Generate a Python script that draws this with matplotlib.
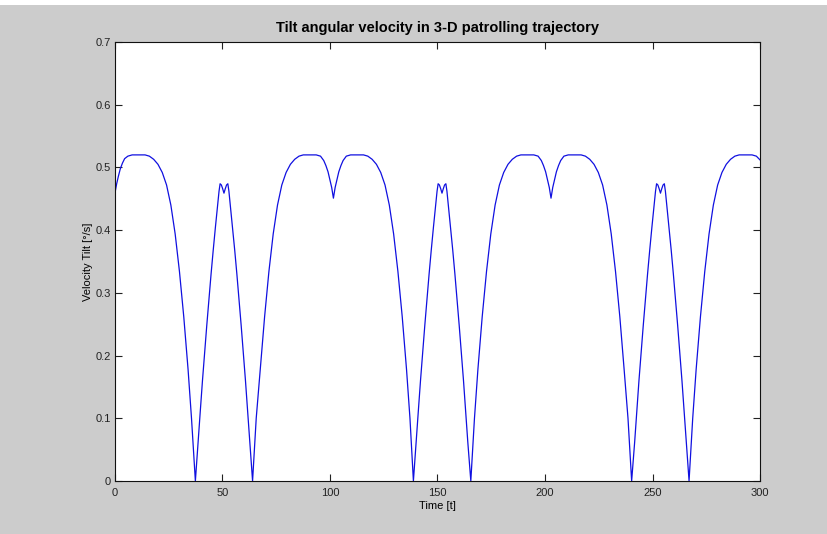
import matplotlib
matplotlib.use('agg')
import matplotlib.pyplot as plt
from matplotlib.patches import Rectangle

plt.rcParams['font.family'] = ['Liberation Sans', 'DejaVu Sans']

# tilt velocity, one lobe segment per list
t_lobe1 = [0, 0.8, 1.6, 2.5, 3.5, 4.5, 6, 8, 11, 14, 16, 18, 20, 22, 24, 26, 28, 30, 32, 34, 35.6, 37.4]
v_lobe1 = [0.459, 0.474, 0.486, 0.498, 0.507, 0.514, 0.518, 0.520, 0.520, 0.520, 0.518, 0.513, 0.505,
           0.492, 0.472, 0.440, 0.394, 0.334, 0.262, 0.178, 0.100, 0.0]

t_peak1 = [38.7, 39.7, 40.7, 41.7, 42.7, 43.7, 44.7, 45.7, 46.7, 47.7, 48.4, 48.9, 49.5, 50.1, 50.7,
           51.3, 51.9, 52.5, 53.0, 53.7, 54.7, 55.7, 56.7, 57.7, 58.7, 59.7, 60.7, 61.7, 62.7, 64.0]
v_peak1 = [0.062, 0.112, 0.160, 0.205, 0.248, 0.290, 0.330, 0.368, 0.404, 0.438, 0.462, 0.474, 0.472,
           0.466, 0.459, 0.466, 0.472, 0.474, 0.462, 0.438, 0.404, 0.368, 0.330, 0.290, 0.248, 0.205,
           0.160, 0.112, 0.062, 0.0]

t_lobe2 = [65.7, 67.6, 69.6, 71.6, 73.6, 75.6, 77.6, 79.6, 81.6, 83.6, 85.6, 87.6, 90.6, 93.6, 95.6,
           97.1, 98.1, 99.1, 100.0, 100.8, 101.6, 102.4, 103.2, 104.1, 105.1, 106.1, 107.6, 109.6,
           112.6, 115.6, 117.6, 119.6, 121.6, 123.6, 125.6, 127.6, 129.6, 131.6, 133.6, 135.6, 137.2, 138.8]
v_lobe2 = [0.100, 0.178, 0.262, 0.334, 0.394, 0.440, 0.472, 0.492, 0.505, 0.513, 0.518, 0.520, 0.520,
           0.520, 0.518, 0.511, 0.503, 0.493, 0.480, 0.468, 0.451, 0.468, 0.480, 0.493, 0.503, 0.511,
           0.518, 0.520, 0.520, 0.520, 0.518, 0.513, 0.505, 0.492, 0.472, 0.440, 0.394, 0.334, 0.262,
           0.178, 0.100, 0.0]

t_peak2 = [140.1, 141.1, 142.1, 143.1, 144.1, 145.1, 146.1, 147.1, 148.1, 149.1, 149.8, 150.3, 150.9,
           151.5, 152.1, 152.7, 153.3, 153.9, 154.4, 155.1, 156.1, 157.1, 158.1, 159.1, 160.1, 161.1,
           162.1, 163.1, 164.1, 165.5]
v_peak2 = [0.062, 0.112, 0.160, 0.205, 0.248, 0.290, 0.330, 0.368, 0.404, 0.438, 0.462, 0.474, 0.472,
           0.466, 0.459, 0.466, 0.472, 0.474, 0.462, 0.438, 0.404, 0.368, 0.330, 0.290, 0.248, 0.205,
           0.160, 0.112, 0.062, 0.0]

t_lobe3 = [167.2, 168.8, 170.8, 172.8, 174.8, 176.8, 178.8, 180.8, 182.8, 184.8, 186.8, 188.8, 191.8,
           194.8, 196.8, 198.3, 199.3, 200.3, 201.2, 202.0, 202.8, 203.6, 204.4, 205.3, 206.3, 207.3,
           208.8, 210.8, 213.8, 216.8, 218.8, 220.8, 222.8, 224.8, 226.8, 228.8, 230.8, 232.8, 234.8,
           236.8, 238.6, 240.3]
v_lobe3 = [0.100, 0.178, 0.262, 0.334, 0.394, 0.440, 0.472, 0.492, 0.505, 0.513, 0.518, 0.520, 0.520,
           0.520, 0.518, 0.511, 0.503, 0.493, 0.480, 0.468, 0.451, 0.468, 0.480, 0.493, 0.503, 0.511,
           0.518, 0.520, 0.520, 0.520, 0.518, 0.513, 0.505, 0.492, 0.472, 0.440, 0.394, 0.334, 0.262,
           0.178, 0.100, 0.0]

t_peak3 = [241.7, 242.7, 243.7, 244.7, 245.7, 246.7, 247.7, 248.7, 249.7, 250.7, 251.4, 251.9, 252.5,
           253.1, 253.7, 254.3, 254.9, 255.5, 256.0, 256.7, 257.7, 258.7, 259.7, 260.7, 261.7, 262.7,
           263.7, 264.7, 265.7, 267.0]
v_peak3 = [0.062, 0.112, 0.160, 0.205, 0.248, 0.290, 0.330, 0.368, 0.404, 0.438, 0.462, 0.474, 0.472,
           0.466, 0.459, 0.466, 0.472, 0.474, 0.462, 0.438, 0.404, 0.368, 0.330, 0.290, 0.248, 0.205,
           0.160, 0.112, 0.062, 0.0]

t_lobe4 = [268.7, 270.3, 272.3, 274.3, 276.3, 278.3, 280.3, 282.3, 284.3, 286.3, 288.3, 290.3, 293.3,
           296.3, 298.3, 300.0]
v_lobe4 = [0.100, 0.178, 0.262, 0.334, 0.394, 0.440, 0.472, 0.492, 0.505, 0.513, 0.518, 0.520, 0.520,
           0.520, 0.518, 0.512]

t = t_lobe1 + t_peak1 + t_lobe2 + t_peak2 + t_lobe3 + t_peak3 + t_lobe4
v = v_lobe1 + v_peak1 + v_lobe2 + v_peak2 + v_lobe3 + v_peak3 + v_lobe4

xticks = [0, 50, 100, 150, 200, 250, 300]
yticks = [0, 0.1, 0.2, 0.3, 0.4, 0.5, 0.6, 0.7]
ytick_labels = ['0', '0.1', '0.2', '0.3', '0.4', '0.5', '0.6', '0.7']

fig = plt.figure(figsize=(8.27, 5.34), dpi=100, facecolor='#cccccc')
# thin white strip along the top edge of the screenshot
fig.patches.append(Rectangle((0, 0.99), 1, 0.01, transform=fig.transFigure,
                             facecolor='white', edgecolor='none'))
ax = fig.add_axes([0.139, 0.0993, 0.780, 0.822])
ax.set_facecolor('white')

ax.plot(t, v, color='#1010e0', linewidth=0.9)

ax.set_xlim(0, 300)
ax.set_ylim(0, 0.7)
ax.set_xticks(xticks)
ax.set_yticks(yticks)
ax.set_yticklabels(ytick_labels)
ax.tick_params(direction='in', length=5, width=0.8, labelsize=8, colors='#222222',
               top=True, right=True)
ax.tick_params(axis='x', pad=5)
ax.tick_params(axis='y', pad=3)
for s in ax.spines.values():
    s.set_linewidth(0.8)
    s.set_color('#111111')

ax.set_title('Tilt angular velocity in 3-D patrolling trajectory', fontsize=10.5,
             fontweight='bold', pad=7)
ax.set_xlabel('Time [t]', fontsize=8, labelpad=2)
ax.set_ylabel('Velocity Tilt [°/s]', fontsize=8, labelpad=2)

fig.savefig('out.png', dpi=100, facecolor=fig.get_facecolor())
